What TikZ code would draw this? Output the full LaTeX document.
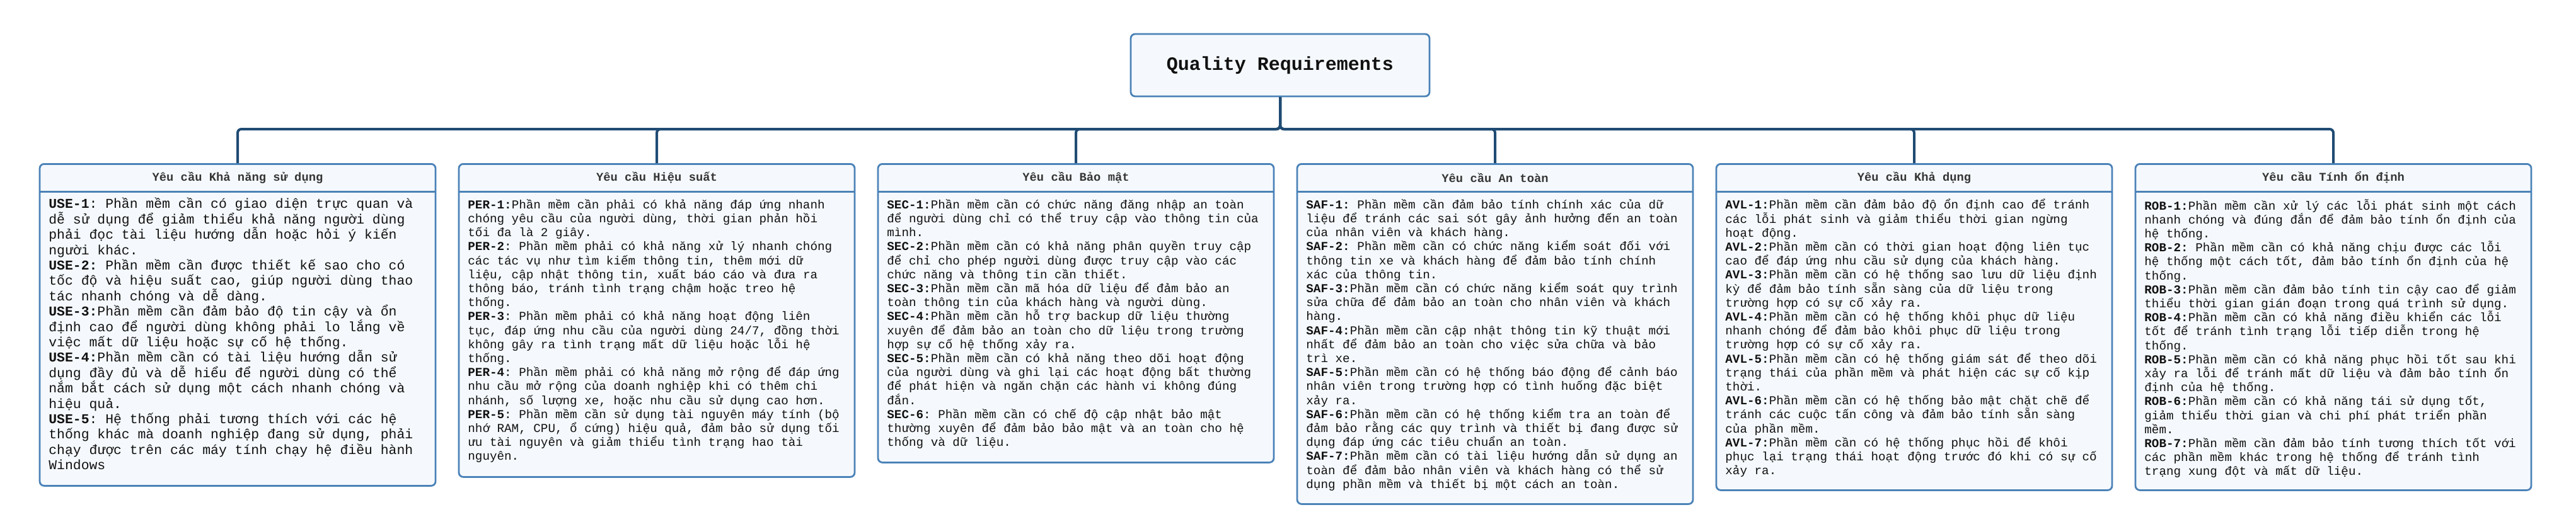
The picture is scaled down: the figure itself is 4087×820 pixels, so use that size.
\documentclass[tikz,border=0pt]{standalone}
\usepackage{fontspec}
\setmonofont{Liberation Mono}
\definecolor{boxline}{HTML}{4B82B8}
\definecolor{boxfill}{HTML}{F5F9FD}
\definecolor{linkline}{HTML}{1F4B73}
\definecolor{inktext}{HTML}{111111}
\newcommand{\reqid}[1]{\textbf{#1}}
\newcommand{\tightlines}{\lineskiplimit -100pt\relax}

\begin{document}
\begin{tikzpicture}[x=0.5pt,y=-0.5pt,
  box/.style={draw=boxline, fill=boxfill, line width=1.4pt, rounded corners=3.5pt,
    minimum width=314pt, anchor=north, inner sep=0pt},
  head/.style={font=\ttfamily\bfseries\fontsize{9.4}{11}\selectfont, text=inktext!85,
    minimum width=314pt, minimum height=22.5pt, anchor=north, inner sep=0pt},
  body/.style={font=\ttfamily\fontsize{9.63}{11.1}\selectfont\tightlines, text=inktext,
    align=left, inner sep=0pt, anchor=north west},
  sep/.style={draw=boxline, line width=1.6pt},
  link/.style={draw=linkline, line width=2pt, rounded corners=3pt}]

  \fill[white] (0,0) rectangle (4087,820);
  \useasboundingbox (0,0) rectangle (4087,820);

  \node[box, anchor=center, minimum width=237pt, minimum height=49.5pt,
    font=\ttfamily\bfseries\fontsize{15}{18}\selectfont, text=inktext] (title) at (2031,103.5) {Quality Requirements};

  % usability
  \node[box, minimum height=255.5pt] (use) at (377,259) {};
  \node[head] (usehead) at (use.north) {Yêu cầu Khả năng sử dụng};
  \draw[sep] (usehead.south west) -- (usehead.south east);
  \node[body, font=\ttfamily\fontsize{10.7}{12.2}\selectfont\tightlines] (usetext) at (77,314) {%
\reqid{USE-1}: Phần mềm cần có giao diện trực quan và\\
dễ sử dụng để giảm thiểu khả năng người dùng\\
phải đọc tài liệu hướng dẫn hoặc hỏi ý kiến\\
người khác.\\
\reqid{USE-2:} Phần mềm cần được thiết kế sao cho có\\
tốc độ và hiệu suất cao, giúp người dùng thao\\
tác nhanh chóng và dễ dàng.\\
\reqid{USE-3:}Phần mềm cần đảm bảo độ tin cậy và ổn\\
định cao để người dùng không phải lo lắng về\\
việc mất dữ liệu hoặc sự cố hệ thống.\\
\reqid{USE-4:}Phần mềm cần có tài liệu hướng dẫn sử\\
dụng đầy đủ và dễ hiểu để người dùng có thể\\
nắm bắt cách sử dụng một cách nhanh chóng và\\
hiệu quả.\\
\reqid{USE-5}: Hệ thống phải tương thích với các hệ\\
thống khác mà doanh nghiệp đang sử dụng, phải\\
chạy được trên các máy tính chạy hệ điều hành\\
Windows};

  % performance
  \node[box, minimum height=248.5pt] (per) at (1042,259) {};
  \node[head] (perhead) at (per.north) {Yêu cầu Hiệu suất};
  \draw[sep] (perhead.south west) -- (perhead.south east);
  \node[body] (pertext) at (742,316) {%
\reqid{PER-1:}Phần mềm cần phải có khả năng đáp ứng nhanh\\
chóng yêu cầu của người dùng, thời gian phản hồi\\
tối đa là 2 giây.\\
\reqid{PER-2}: Phần mềm phải có khả năng xử lý nhanh chóng\\
các tác vụ như tìm kiếm thông tin, thêm mới dữ\\
liệu, cập nhật thông tin, xuất báo cáo và đưa ra\\
thông báo, tránh tình trạng chậm hoặc treo hệ\\
thống.\\
\reqid{PER-3}: Phần mềm phải có khả năng hoạt động liên\\
tục, đáp ứng nhu cầu của người dùng 24/7, đồng thời\\
không gây ra tình trạng mất dữ liệu hoặc lỗi hệ\\
thống.\\
\reqid{PER-4}: Phần mềm phải có khả năng mở rộng để đáp ứng\\
nhu cầu mở rộng của doanh nghiệp khi có thêm chi\\
nhánh, số lượng xe, hoặc nhu cầu sử dụng cao hơn.\\
\reqid{PER-5}: Phần mềm cần sử dụng tài nguyên máy tính (bộ\\
nhớ RAM, CPU, ổ cứng) hiệu quả, đảm bảo sử dụng tối\\
ưu tài nguyên và giảm thiểu tình trạng hao tài\\
nguyên.};

  % security
  \node[box, minimum height=237pt] (sec) at (1707,259) {};
  \node[head] (sechead) at (sec.north) {Yêu cầu Bảo mật};
  \draw[sep] (sechead.south west) -- (sechead.south east);
  \node[body] (sectext) at (1407,316) {%
\reqid{SEC-1:}Phần mềm cần có chức năng đăng nhập an toàn\\
để người dùng chỉ có thể truy cập vào thông tin của\\
mình.\\
\reqid{SEC-2:}Phần mềm cần có khả năng phân quyền truy cập\\
để chỉ cho phép người dùng được truy cập vào các\\
chức năng và thông tin cần thiết.\\
\reqid{SEC-3:}Phần mềm cần mã hóa dữ liệu để đảm bảo an\\
toàn thông tin của khách hàng và người dùng.\\
\reqid{SEC-4:}Phần mềm cần hỗ trợ backup dữ liệu thường\\
xuyên để đảm bảo an toàn cho dữ liệu trong trường\\
hợp sự cố hệ thống xảy ra.\\
\reqid{SEC-5:}Phần mềm cần có khả năng theo dõi hoạt động\\
của người dùng và ghi lại các hoạt động bất thường\\
để phát hiện và ngăn chặn các hành vi không đúng\\
đắn.\\
\reqid{SEC-6}: Phần mềm cần có chế độ cập nhật bảo mật\\
thường xuyên để đảm bảo bảo mật và an toàn cho hệ\\
thống và dữ liệu.};

  % safety
  \node[box, minimum height=270pt] (saf) at (2372,259) {};
  \node[head] (safhead) at (saf.north) {Yêu cầu An toàn};
  \draw[sep] (safhead.south west) -- (safhead.south east);
  \node[body] (saftext) at (2072,316) {%
\reqid{SAF-1:} Phần mềm cần đảm bảo tính chính xác của dữ\\
liệu để tránh các sai sót gây ảnh hưởng đến an toàn\\
của nhân viên và khách hàng.\\
\reqid{SAF-2:} Phần mềm cần có chức năng kiểm soát đối với\\
thông tin xe và khách hàng để đảm bảo tính chính\\
xác của thông tin.\\
\reqid{SAF-3:}Phần mềm cần có chức năng kiểm soát quy trình\\
sửa chữa để đảm bảo an toàn cho nhân viên và khách\\
hàng.\\
\reqid{SAF-4:}Phần mềm cần cập nhật thông tin kỹ thuật mới\\
nhất để đảm bảo an toàn cho việc sửa chữa và bảo\\
trì xe.\\
\reqid{SAF-5:}Phần mềm cần có hệ thống báo động để cảnh báo\\
nhân viên trong trường hợp có tình huống đặc biệt\\
xảy ra.\\
\reqid{SAF-6:}Phần mềm cần có hệ thống kiểm tra an toàn để\\
đảm bảo rằng các quy trình và thiết bị đang được sử\\
dụng đáp ứng các tiêu chuẩn an toàn.\\
\reqid{SAF-7:}Phần mềm cần có tài liệu hướng dẫn sử dụng an\\
toàn để đảm bảo nhân viên và khách hàng có thể sử\\
dụng phần mềm và thiết bị một cách an toàn.};

  % availability
  \node[box, minimum height=259pt] (avl) at (3037,259) {};
  \node[head] (avlhead) at (avl.north) {Yêu cầu Khả dụng};
  \draw[sep] (avlhead.south west) -- (avlhead.south east);
  \node[body] (avltext) at (2737,316) {%
\reqid{AVL-1:}Phần mềm cần đảm bảo độ ổn định cao để tránh\\
các lỗi phát sinh và giảm thiểu thời gian ngừng\\
hoạt động.\\
\reqid{AVL-2:}Phần mềm cần có thời gian hoạt động liên tục\\
cao để đáp ứng nhu cầu sử dụng của khách hàng.\\
\reqid{AVL-3:}Phần mềm cần có hệ thống sao lưu dữ liệu định\\
kỳ để đảm bảo tính sẵn sàng của dữ liệu trong\\
trường hợp có sự cố xảy ra.\\
\reqid{AVL-4:}Phần mềm cần có hệ thống khôi phục dữ liệu\\
nhanh chóng để đảm bảo khôi phục dữ liệu trong\\
trường hợp có sự cố xảy ra.\\
\reqid{AVL-5:}Phần mềm cần có hệ thống giám sát để theo dõi\\
trạng thái của phần mềm và phát hiện các sự cố kịp\\
thời.\\
\reqid{AVL-6:}Phần mềm cần có hệ thống bảo mật chặt chẽ để\\
tránh các cuộc tấn công và đảm bảo tính sẵn sàng\\
của phần mềm.\\
\reqid{AVL-7:}Phần mềm cần có hệ thống phục hồi để khôi\\
phục lại trạng thái hoạt động trước đó khi có sự cố\\
xảy ra.};

  % robustness
  \node[box, minimum height=259pt] (rob) at (3702,259) {};
  \node[head] (robhead) at (rob.north) {Yêu cầu Tính ổn định};
  \draw[sep] (robhead.south west) -- (robhead.south east);
  \node[body] (robtext) at (3402,316) {%
\reqid{ROB-1:}Phần mềm cần xử lý các lỗi phát sinh một cách\\
nhanh chóng và đúng đắn để đảm bảo tính ổn định của\\
hệ thống.\\
\reqid{ROB-2:} Phần mềm cần có khả năng chịu được các lỗi\\
hệ thống một cách tốt, đảm bảo tính ổn định của hệ\\
thống.\\
\reqid{ROB-3:}Phần mềm cần đảm bảo tính tin cậy cao để giảm\\
thiểu thời gian gián đoạn trong quá trình sử dụng.\\
\reqid{ROB-4:}Phần mềm cần có khả năng điều khiển các lỗi\\
tốt để tránh tình trạng lỗi tiếp diễn trong hệ\\
thống.\\
\reqid{ROB-5:}Phần mềm cần có khả năng phục hồi tốt sau khi\\
xảy ra lỗi để tránh mất dữ liệu và đảm bảo tính ổn\\
định của hệ thống.\\
\reqid{ROB-6:}Phần mềm cần có khả năng tái sử dụng tốt,\\
giảm thiểu thời gian và chi phí phát triển phần\\
mềm.\\
\reqid{ROB-7:}Phần mềm cần đảm bảo tính tương thích tốt với\\
các phần mềm khác trong hệ thống để tránh tình\\
trạng xung đột và mất dữ liệu.};

  % tree links
  \coordinate (bus) at (2031,205);
  \draw[link] (title.south) -- (bus) -| (use.north);
  \draw[link] (title.south) -- (bus) -| (per.north);
  \draw[link] (title.south) -- (bus) -| (sec.north);
  \draw[link] (title.south) -- (bus) -| (saf.north);
  \draw[link] (title.south) -- (bus) -| (avl.north);
  \draw[link] (title.south) -- (bus) -| (rob.north);
\end{tikzpicture}
\end{document}
